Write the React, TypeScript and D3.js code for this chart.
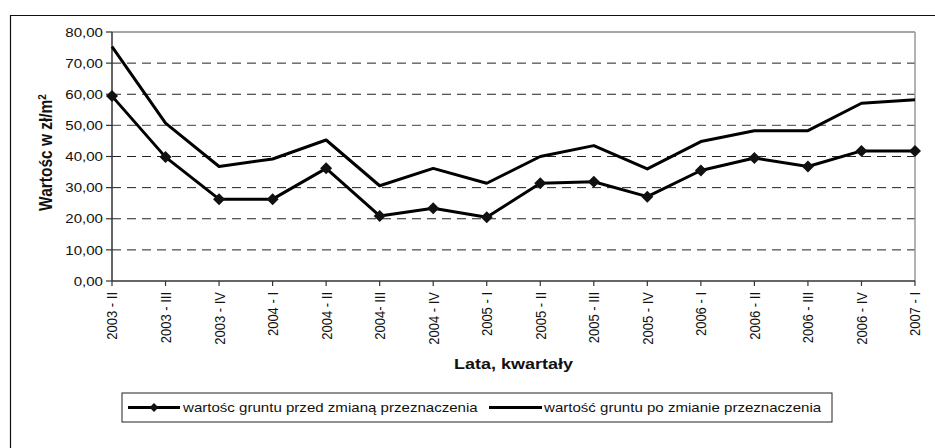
import React from "react";
import * as d3 from "d3";

const categories = [
  "2003 - II", "2003 - III", "2003 - IV", "2004 - I", "2004 - II", "2004- III",
  "2004 - IV", "2005 - I", "2005 - II", "2005 - III", "2005 - IV", "2006 - I",
  "2006 - II", "2006 - III", "2006 - IV", "2007 - I",
];
const beforeChange = [59.4, 39.8, 26.3, 26.3, 36.2, 20.9, 23.4, 20.5, 31.4, 31.9, 27.1, 35.5, 39.5, 36.8, 41.8, 41.8];
const afterChange = [75.3, 50.7, 36.8, 39.2, 45.3, 30.6, 36.2, 31.4, 40.0, 43.5, 36.0, 44.8, 48.3, 48.3, 57.1, 58.2];
const yTicks = [0, 10, 20, 30, 40, 50, 60, 70, 80];
const seriesNames = [
  "wartośc gruntu przed zmianą przeznaczenia",
  "wartość gruntu po zmianie przeznaczenia",
];

const W = 935;
const H = 448;
const left = 112;
const right = 915;
const top = 32;
const bottom = 281;
const SX = 1.16;
const FONT = "'Liberation Sans', Arial, sans-serif";

export default function App() {
  const x = d3.scalePoint<string>().domain(categories).range([left, right]);
  const y = d3.scaleLinear().domain([0, 80]).range([bottom, top]);
  const line = d3
    .line<number>()
    .x((_, i) => x(categories[i]) as number)
    .y((d) => y(d));
  const fmt = (v: number) => v.toFixed(2).replace(".", ",");
  const diamond = (cx: number, cy: number, r: number) =>
    `M${cx},${cy - r}L${cx + r},${cy}L${cx},${cy + r}L${cx - r},${cy}Z`;

  const legTop = 393;
  const legBottom = 422;
  const legY = (legTop + legBottom) / 2;

  return (
    <svg
      width={W}
      height={H}
      style={{ position: "absolute", left: 0, top: 0, background: "#fff" }}
      fontFamily={FONT}
    >
      <rect x={0} y={0} width={W} height={H} fill="#fff" />
      {/* outer frame */}
      <line x1={10.5} y1={15} x2={10.5} y2={H} stroke="#111" strokeWidth={1.2} />
      <line x1={10} y1={15.5} x2={W} y2={15.5} stroke="#111" strokeWidth={1.2} />

      {/* gridlines */}
      {yTicks.filter((t) => t > 0 && t < 80).map((t) => (
        <line
          key={"g" + t}
          x1={left}
          x2={right}
          y1={y(t)}
          y2={y(t)}
          stroke={t === 50 ? "#666" : "#222"}
          strokeWidth={t === 50 ? 1.4 : 1}
          strokeDasharray="9,6"
        />
      ))}
      {/* plot border top/right */}
      <line x1={left} x2={right} y1={top} y2={top} stroke="#888" strokeWidth={1.5} />
      <line x1={right} x2={right} y1={top} y2={bottom} stroke="#999" strokeWidth={1.5} />

      {/* axes */}
      <line x1={left} x2={left} y1={top} y2={bottom} stroke="#333" strokeWidth={1.5} />
      <line x1={left} x2={right} y1={bottom} y2={bottom} stroke="#333" strokeWidth={1.5} />

      {/* y ticks */}
      {yTicks.map((t) => (
        <g key={"y" + t}>
          <line x1={left - 6} x2={left} y1={y(t)} y2={y(t)} stroke="#333" strokeWidth={1.2} />
          <text
            transform={`translate(${left - 9},${y(t)}) scale(${SX},1)`}
            textAnchor="end"
            dy="0.36em"
            fontSize={13}
            fill="#111"
          >
            {fmt(t)}
          </text>
        </g>
      ))}

      {/* x ticks */}
      {categories.map((c) => {
        const cx = x(c) as number;
        return (
          <g key={"x" + c}>
            <line x1={cx} x2={cx} y1={bottom} y2={bottom + 5} stroke="#333" strokeWidth={1.2} />
            <text
              transform={`translate(${cx},${bottom + 11}) scale(${SX},1) rotate(-90)`}
              textAnchor="end"
              dy="0.36em"
              fontSize={13}
              fill="#111"
            >
              {c}
            </text>
          </g>
        );
      })}

      {/* axis titles */}
      <text
        transform={`translate(${(left + right) / 2},369) scale(${SX},1)`}
        textAnchor="middle"
        fontSize={15.5}
        fontWeight="bold"
        fill="#111"
      >
        Lata, kwartały
      </text>
      <text
        transform={`translate(46,${(top + bottom) / 2 - 4}) scale(${SX},1) rotate(-90)`}
        textAnchor="middle"
        dy="0.36em"
        fontSize={15.5}
        fontWeight="bold"
        fill="#111"
      >
        Wartośc w zł/m<tspan fontSize={10} dy="-0.6em">2</tspan>
      </text>

      {/* series */}
      <path d={line(afterChange) || ""} fill="none" stroke="#000" strokeWidth={3} strokeLinejoin="round" />
      <path d={line(beforeChange) || ""} fill="none" stroke="#000" strokeWidth={3} strokeLinejoin="round" />
      {beforeChange.map((v, i) => (
        <path key={"d" + i} d={diamond(x(categories[i]) as number, y(v), 6)} fill="#111" />
      ))}

      {/* legend */}
      <rect x={122} y={legTop} width={710} height={legBottom - legTop} fill="#fff" stroke="#222" strokeWidth={1} />
      <line x1={128} x2={180} y1={legY} y2={legY} stroke="#000" strokeWidth={3} />
      <path d={diamond(154, legY, 4.5)} fill="#111" />
      <text
        transform={`translate(183,${legY}) scale(${SX},1)`}
        dy="0.36em"
        fontSize={13}
        fill="#111"
      >
        {seriesNames[0]}
      </text>
      <line x1={489} x2={542} y1={legY} y2={legY} stroke="#000" strokeWidth={3} />
      <text
        transform={`translate(544,${legY}) scale(${SX},1)`}
        dy="0.36em"
        fontSize={13}
        fill="#111"
      >
        {seriesNames[1]}
      </text>
    </svg>
  );
}
